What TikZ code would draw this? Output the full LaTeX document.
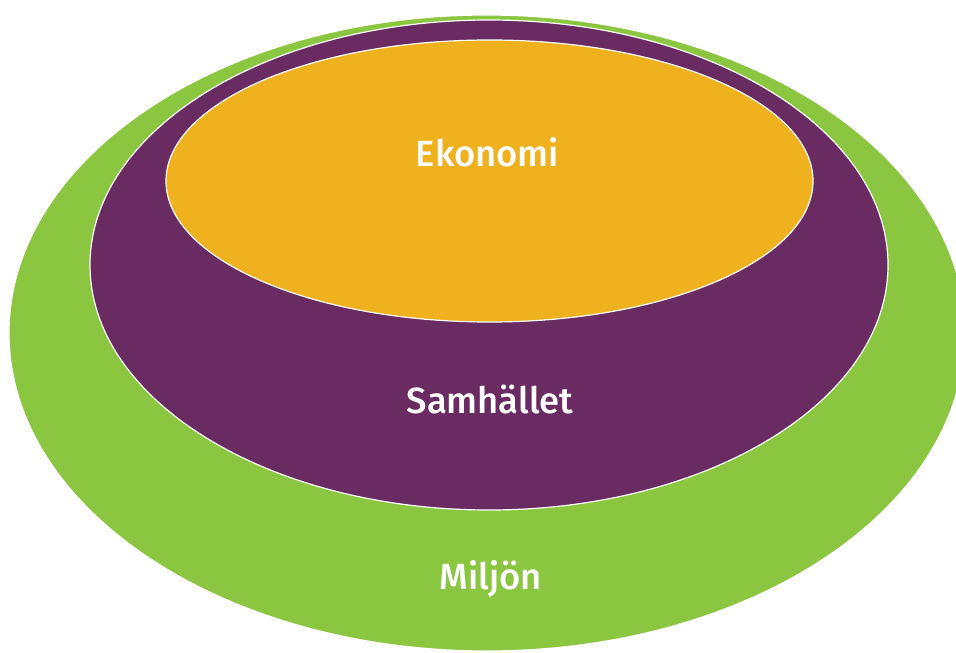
\documentclass[tikz,border=0pt]{standalone}
\usepackage{fontspec}
\setmainfont{Fira Sans}[BoldFont={Fira Sans Medium}]
\usetikzlibrary{shapes.geometric}
\definecolor{miljogreen}{RGB}{139,198,65}
\definecolor{samhalletpurple}{RGB}{106,42,98}
\definecolor{ekonomiorange}{RGB}{240,177,30}
\begin{document}
\begin{tikzpicture}
[x=0.5pt,y=-0.5pt,
  ringdecorate/.style={shape=ellipse,inner sep=0pt,draw=white,line width=0.6pt},%
  labeldecorate/.style={anchor=base,inner sep=0pt,text=white,font=\bfseries\fontsize{18.2}{21}\selectfont}]
\useasboundingbox (0,0) rectangle (956,652);
\clip (0,0) rectangle (956,652);
%% rings
\foreach \nodename/\x/\y/\w/\h/\colour in {miljon/487/333/956/636/miljogreen,
  samhallet/489/265/798/490/samhalletpurple,
  ekonomi/489.5/181/647/282/ekonomiorange} {
  \node (\nodename) at (\x,\y) [ringdecorate,fill=\colour,
    minimum width=\w*0.5pt,minimum height=\h*0.5pt] {};
}
%% labels
\foreach \labelname/\x/\y/\word in {ekonomilabel/487.5/167/Ekonomi,
  samhalletlabel/490/413/Samhället, miljonlabel/491/589/Miljön} {
  \node (\labelname) at (\x,\y) [labeldecorate] {\word};
}
\end{tikzpicture}
\end{document}
